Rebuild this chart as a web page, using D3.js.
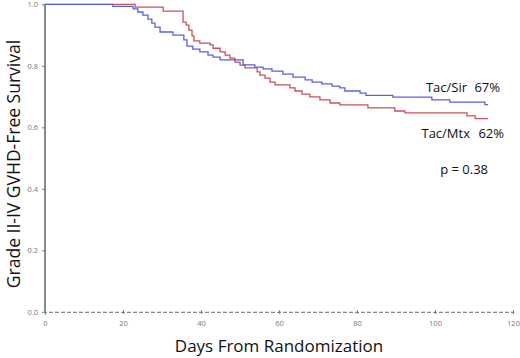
<!DOCTYPE html>
<html><head><meta charset="utf-8">
<script src="https://cdn.jsdelivr.net/npm/d3@7"></script>
<style>body{margin:0;background:#fff}svg{display:block}</style>
</head><body>
<svg id="c" width="520" height="358"></svg>
<script>
const xTicks = [0, 20, 40, 60, 80, 100, 120];
const yTicks = [0.0, 0.2, 0.4, 0.6, 0.8, 1.0];
const sirDays = [0, 17.4, 22.6, 23.8, 25.1, 26.4, 27.4, 28.2, 29.5, 32.8, 35.6, 36.4, 37.9, 39.7, 41.8, 43.1, 44.9, 50.8, 53.8, 55.9, 58.2, 61.0, 63.6, 66.7, 68.5, 71.0, 73.6, 75.6, 76.9, 80.8, 82.3, 89.2, 99.2, 103.8, 112.8, 113.6];
const sirSurv = [1.0, 0.993, 0.985, 0.975, 0.965, 0.952, 0.939, 0.926, 0.910, 0.900, 0.884, 0.864, 0.854, 0.845, 0.835, 0.828, 0.819, 0.803, 0.796, 0.790, 0.783, 0.773, 0.763, 0.754, 0.747, 0.741, 0.734, 0.728, 0.718, 0.711, 0.704, 0.698, 0.689, 0.682, 0.674, 0.674];
const mtxDays = [0, 23.1, 30.3, 35.4, 36.2, 36.9, 37.7, 38.2, 39.7, 42.3, 43.1, 44.9, 46.2, 47.4, 48.7, 50.0, 51.3, 54.4, 55.1, 56.4, 57.7, 59.0, 62.8, 64.1, 65.9, 67.9, 70.5, 73.1, 75.6, 82.8, 89.7, 92.3, 108.2, 110.3, 113.6];
const mtxSurv = [1.0, 0.991, 0.978, 0.942, 0.932, 0.916, 0.897, 0.881, 0.874, 0.868, 0.857, 0.845, 0.835, 0.825, 0.812, 0.802, 0.793, 0.780, 0.770, 0.760, 0.747, 0.738, 0.728, 0.718, 0.708, 0.699, 0.689, 0.679, 0.673, 0.663, 0.653, 0.647, 0.637, 0.628, 0.628];
const seriesNames = ["Tac/Sir", "Tac/Mtx"];
const seriesPct = ["67%", "62%"];
const pText = "p = 0.38";

const svg = d3.select("#c");
const x = d3.scaleLinear().domain([0, 120]).range([45, 513]);
const y = d3.scaleLinear().domain([0, 1]).range([311.8, 4.3]);
const font = "'Open Sans', 'Noto Sans', sans-serif";

// x axis
const gx = svg.append("g").attr("transform", `translate(0,${y(0)})`)
  .call(d3.axisBottom(x).tickValues(xTicks).tickSize(3).tickPadding(6).tickFormat(d3.format("d")));
gx.select(".domain").attr("stroke", "#8a8a8a").attr("stroke-width", 1.2).attr("stroke-dasharray", "4,2");
gx.selectAll(".tick line").attr("stroke", "#777").attr("y1", -1.5).attr("y2", 2);
gx.selectAll(".tick text").attr("fill", "#777").style("font-size", "7.5px").style("font-family", font);

// y axis
const gy = svg.append("g").attr("transform", `translate(${x(0)},0)`)
  .call(d3.axisLeft(y).tickValues(yTicks).tickSize(3).tickPadding(4).tickFormat(d3.format(".1f")));
gy.select(".domain").attr("stroke", "#8a8a8a").attr("stroke-width", 2).attr("d", `M0,${y(1)}V${y(0)}`);
gy.selectAll(".tick line").attr("stroke", "#777");
gy.selectAll(".tick text").attr("fill", "#777").style("font-size", "7.5px").style("font-family", font);

const line = d3.line().curve(d3.curveStepAfter).x(d => x(d[0])).y(d => y(d[1]));
const sir = sirDays.map((d, i) => [d, sirSurv[i]]);
const mtx = mtxDays.map((d, i) => [d, mtxSurv[i]]);
svg.append("path").datum(mtx).attr("d", line).attr("fill", "none").attr("stroke", "#c9505b").attr("stroke-width", 1.3);
svg.append("path").datum(sir).attr("d", line).attr("fill", "none").attr("stroke", "#5b5fe3").attr("stroke-width", 1.3);

// labels
const lab = svg.append("g").style("font-family", font).attr("fill", "#111").style("font-size", "13px");
lab.append("text").attr("x", 467).attr("y", 92).attr("text-anchor", "end").text(seriesNames[0]);
lab.append("text").attr("x", 500).attr("y", 92).attr("text-anchor", "end").text(seriesPct[0]);
lab.append("text").attr("x", 470).attr("y", 138).attr("text-anchor", "end").text(seriesNames[1]);
lab.append("text").attr("x", 504).attr("y", 138).attr("text-anchor", "end").text(seriesPct[1]);
lab.append("text").attr("x", 488).attr("y", 174).attr("text-anchor", "end").text(pText);

svg.append("text").attr("x", 279).attr("y", 352).attr("text-anchor", "middle")
  .style("font-family", font).style("font-size", "17px").attr("fill", "#111").text("Days From Randomization");
svg.append("text").attr("transform", `translate(20,${164}) rotate(-90)`).attr("text-anchor", "middle")
  .style("font-family", font).style("font-size", "17.5px").attr("fill", "#111").text("Grade II-IV GVHD-Free Survival");
</script>
</body></html>
